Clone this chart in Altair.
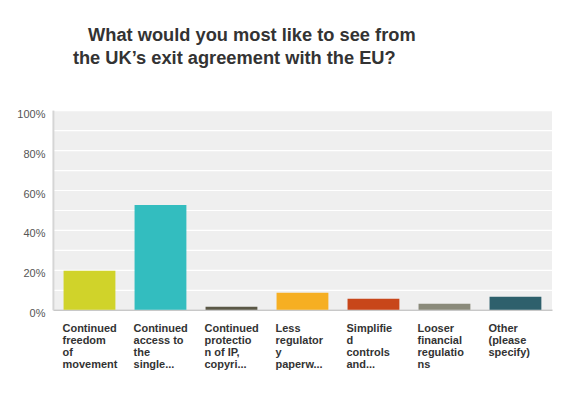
import altair as alt
import pandas as pd

categories = [
    "Continued|freedom|of|movement",
    "Continued|access to|the|single...",
    "Continued|protectio|n of IP,|copyri...",
    "Less|regulator|y|paperw...",
    "Simplifie|d|controls|and...",
    "Looser|financial|regulatio|ns",
    "Other|(please|specify)",
]
values = [0.195, 0.525, 0.015, 0.085, 0.055, 0.03, 0.065]
colors = ["#D0D32A", "#33BDBF", "#5A5746", "#F6AF22", "#C8461A", "#8A8A7A", "#2E606C"]
y_ticks = [0, 0.1, 0.2, 0.3, 0.4, 0.5, 0.6, 0.7, 0.8, 0.9, 1.0]

df = pd.DataFrame({"cat": categories, "val": values})

font = "Liberation Sans, Arial, Helvetica, sans-serif"

chart = alt.Chart(df).mark_bar().encode(
    x=alt.X("cat:N", sort=None,
            scale=alt.Scale(paddingInner=0.27, paddingOuter=0.15),
            axis=alt.Axis(title=None, labelAngle=0, labelAlign="left", labelBaseline="top",
                          labelOffset=-27, labelPadding=13,
                          labelExpr="split(datum.label, '|')",
                          labelFont=font, labelFontSize=11, labelFontWeight="bold",
                          labelColor="#333333", labelLineHeight=12,
                          ticks=False, domainColor="#C8C8C8", domainWidth=1.5,
                          labelLimit=0, grid=False)),
    y=alt.Y("val:Q", scale=alt.Scale(domain=[0, 1], nice=False),
            axis=alt.Axis(title=None, values=y_ticks,
                          labelExpr="round(datum.value*10) % 2 == 0 ? format(datum.value, '.0%') : ''",
                          labelFont=font, labelFontSize=11, labelColor="#555555",
                          labelPadding=8, labelOffset=4, ticks=False,
                          domainColor="#D5D5D5", domainWidth=2,
                          grid=True, gridColor="#FFFFFF", gridWidth=1.2)),
    color=alt.Color("cat:N", sort=None, scale=alt.Scale(domain=categories, range=colors), legend=None),
).properties(
    width=500,
    height=200,
    title=alt.TitleParams(
        text=["\u200b\u00a0\u00a0\u00a0What would you most like to see from",
              "the UK\u2019s exit agreement with the EU?"],
        anchor="start", frame="group", dx=20, offset=40,
        font=font, fontSize=18.3, fontWeight="bold", color="#333333", lineHeight=23,
    ),
    autosize=alt.AutoSizeParams(type="none"),
    padding={"left": 45, "top": 102, "right": 10, "bottom": 80},
).configure_view(
    fill="#EFEFEF", stroke=None
)

chart.save("out.html", embed_options={"renderer": "svg", "actions": False})
